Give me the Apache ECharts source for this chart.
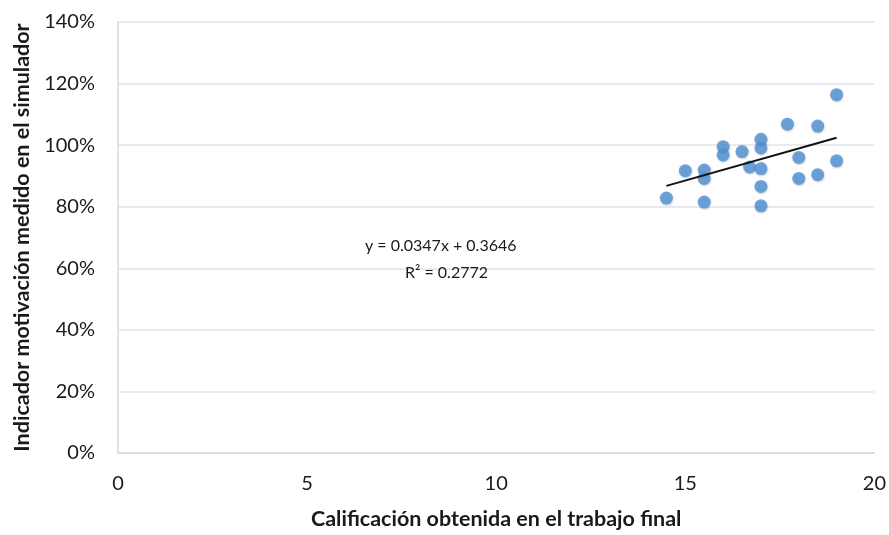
<!DOCTYPE html>
<html>
<head>
<meta charset="utf-8">
<script src="https://cdn.jsdelivr.net/npm/echarts@6/dist/echarts.min.js"></script>
<style>
  html, body { margin: 0; padding: 0; background: #fff; }
  #chart { width: 889px; height: 535px; }
</style>
</head>
<body>
<div id="chart"></div>
<script>
// Final-project grade vs. motivation indicator measured in the simulator
const grades = [14.5, 15, 15.5, 15.5, 15.5, 16, 16, 16.5, 16.7, 17, 17, 17, 17, 17, 17.7, 18, 18, 18.5, 18.5, 19, 19];
const motivation = [0.828, 0.917, 0.919, 0.892, 0.815, 0.995, 0.968, 0.979, 0.929, 1.019, 0.991, 0.924, 0.866, 0.803, 1.068, 0.960, 0.892, 1.062, 0.904, 1.164, 0.949];

// Linear trend fitted in the spreadsheet
const slope = 0.0347;
const intercept = 0.3646;
const rSquared = 0.2772;
const trendRange = [14.5, 19];

const xTicks = [0, 5, 10, 15, 20];
const yTicks = [0, 0.2, 0.4, 0.6, 0.8, 1.0, 1.2, 1.4];

const points = grades.map((g, i) => [g, motivation[i]]);
const trendLine = trendRange.map(x => [x, slope * x + intercept]);

const font = 'Lato, "Open Sans", sans-serif';

const chart = echarts.init(document.getElementById('chart'), null, { renderer: 'canvas' });
chart.setOption({
  animation: false,
  backgroundColor: '#ffffff',
  grid: { left: 118, right: 13, top: 22, bottom: 79 },
  xAxis: {
    type: 'value',
    min: xTicks[0],
    max: xTicks[xTicks.length - 1],
    interval: 5,
    name: 'Calificación obtenida en el trabajo final',
    nameLocation: 'middle',
    nameGap: 55,
    nameTextStyle: { fontFamily: font, fontWeight: 'bold', fontSize: 21.5, color: '#1a1a1a' },
    axisLine: { show: true, lineStyle: { color: '#d3dae4', width: 1.5 } },
    axisTick: { show: false },
    axisLabel: { fontFamily: font, fontSize: 20, color: '#1a1a1a', margin: 21 },
    splitLine: { show: false }
  },
  yAxis: {
    type: 'value',
    min: yTicks[0],
    max: yTicks[yTicks.length - 1],
    interval: 0.2,
    name: 'Indicador motivación medido en el simulador',
    nameLocation: 'middle',
    nameGap: 85,
    nameTextStyle: { fontFamily: font, fontWeight: 'bold', fontSize: 21.5, color: '#1a1a1a' },
    axisLine: { show: true, lineStyle: { color: '#d3dae4', width: 1.5 } },
    axisTick: { show: false },
    axisLabel: {
      fontFamily: font, fontSize: 20, color: '#1a1a1a', margin: 23,
      formatter: v => Math.round(v * 100) + '%'
    },
    splitLine: { show: true, lineStyle: { color: '#dfe4ec', width: 1.5 } }
  },
  series: [
    {
      type: 'scatter',
      data: points,
      symbolSize: 13,
      itemStyle: {
        color: '#4f92d6',
        shadowColor: 'rgba(0,0,0,0.25)',
        shadowBlur: 2,
        shadowOffsetX: 0.5,
        shadowOffsetY: 1
      },
      z: 3
    },
    {
      type: 'line',
      data: trendLine,
      showSymbol: false,
      symbol: 'none',
      lineStyle: { color: '#111', width: 2 },
      z: 4
    }
  ],
  graphic: [
    {
      type: 'text',
      z: 100,
      x: 365,
      y: 246,
      style: {
        text: 'y = ' + slope.toFixed(4) + 'x + ' + intercept.toFixed(4),
        font: '16px ' + font,
        fill: '#1a1a1a',
        textAlign: 'left',
        textVerticalAlign: 'middle'
      }
    },
    {
      type: 'text',
      z: 100,
      x: 405,
      y: 273,
      style: {
        text: 'R² = ' + rSquared.toFixed(4),
        font: '16px ' + font,
        fill: '#1a1a1a',
        textAlign: 'left',
        textVerticalAlign: 'middle'
      }
    }
  ]
});
</script>
</body>
</html>
